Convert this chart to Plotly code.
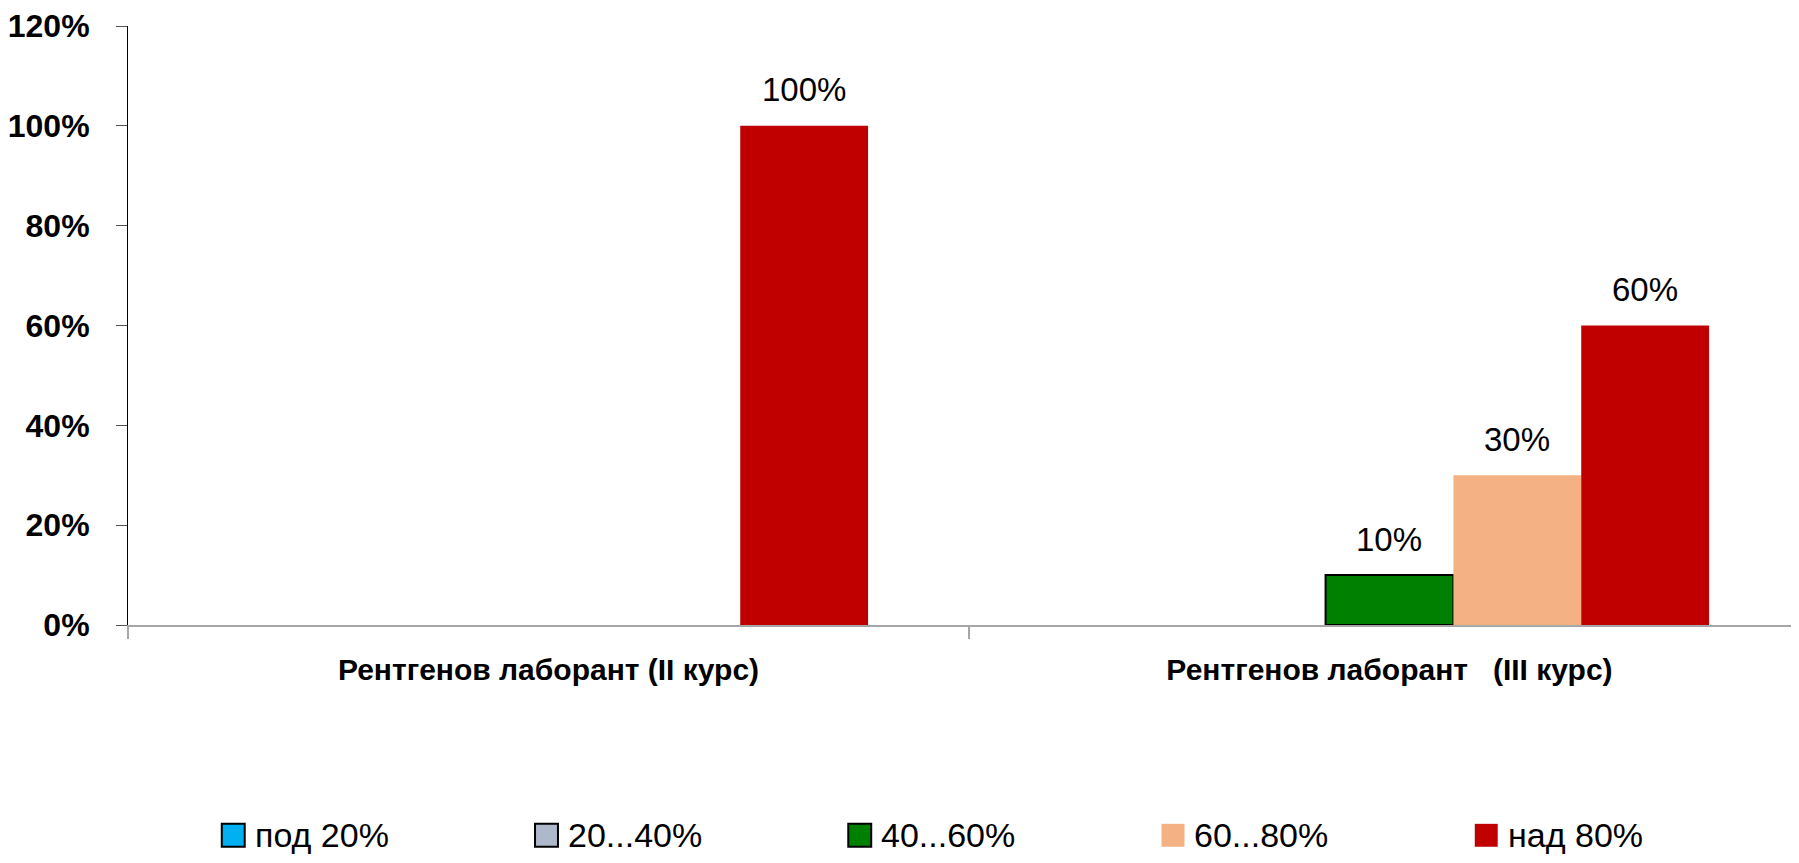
import plotly.graph_objects as go

CATEGORIES = ["Рентгенов лаборант (II курс)", "Рентгенов лаборант\u00a0\u00a0\u00a0(III курс)"]
SERIES_NAMES = ["под 20%", "20...40%", "40...60%", "60...80%", "над 80%"]
SERIES_VALUES = [
    [0, 0],
    [0, 0],
    [0, 10],
    [0, 30],
    [100, 60],
]
SERIES_COLORS = ["#00b0f0", "#adb9ca", "#008000", "#f4b183", "#c00000"]
SERIES_OUTLINED = [True, True, True, False, False]
Y_TICKS = [0, 20, 40, 60, 80, 100, 120]
Y_TICK_LABELS = ["0%", "20%", "40%", "60%", "80%", "100%", "120%"]

FONT = '"Liberation Sans Narrow", "Arial Narrow", "Liberation Sans", Arial, sans-serif'
BARGAP = 0.24

# page body has an 8px default margin, so the figure is offset by 8px
W, H = 1791, 855
PLOT_TOP, PLOT_BOTTOM, PLOT_LEFT = 24, 625, 124   # screen px
PLOT_W = 1799 - PLOT_LEFT
PLOT_H = PLOT_BOTTOM - PLOT_TOP


def paper_x(px):
    return (px - PLOT_LEFT) / PLOT_W


def paper_y(py):
    return (PLOT_BOTTOM - py) / PLOT_H


fig = go.Figure()

n = len(SERIES_NAMES)
bar_w = (1 - BARGAP) / n
for i, (name, vals, color, outlined) in enumerate(zip(SERIES_NAMES, SERIES_VALUES, SERIES_COLORS, SERIES_OUTLINED)):
    fig.add_trace(go.Bar(
        x=CATEGORIES,
        y=vals,
        name=name,
        marker=dict(
            color=color,
            line=dict(color="#000000", width=[2 if (outlined and v) else 0 for v in vals]),
        ),
        showlegend=False,
        hovertemplate="%{x}<br>" + name + ": %{y}%<extra></extra>",
    ))
    # value labels above the non-zero bars
    offset = -(1 - BARGAP) / 2 + bar_w * (i + 0.5)
    for k, v in enumerate(vals):
        if v:
            fig.add_annotation(
                x=k + offset, y=v, xref="x", yref="y",
                text=f"{v}%", showarrow=False,
                yanchor="middle", yshift=36,
                font=dict(family=FONT, size=33, color="#000000"),
            )

# legend drawn as squares + labels, evenly spaced along the bottom
leg_x0, leg_step, leg_y, sq = 218, 314, 836, 23
for i, (name, color, outlined) in enumerate(zip(SERIES_NAMES, SERIES_COLORS, SERIES_OUTLINED)):
    x = leg_x0 + i * leg_step
    fig.add_shape(
        type="rect", xref="paper", yref="paper",
        x0=paper_x(x), x1=paper_x(x + sq),
        y0=paper_y(leg_y + sq / 2), y1=paper_y(leg_y - sq / 2),
        fillcolor=color,
        line=dict(color="#000000" if outlined else color, width=2 if outlined else 0),
    )
    fig.add_annotation(
        x=paper_x(x + sq + 8), xref="paper", xanchor="left",
        y=paper_y(leg_y), yref="paper", yanchor="middle",
        text=name, showarrow=False,
        font=dict(family=FONT, size=34, color="#000000"),
    )

fig.update_layout(
    width=W,
    height=H,
    margin=dict(l=PLOT_LEFT - 8, r=0, t=PLOT_TOP - 8, b=H - (PLOT_BOTTOM - 8)),
    paper_bgcolor="#ffffff",
    plot_bgcolor="#ffffff",
    barmode="group",
    bargap=BARGAP,
    bargroupgap=0,
    showlegend=False,
    font=dict(family=FONT, color="#000000"),
)
fig.update_xaxes(
    range=[-0.5, -0.5 + 2 * PLOT_W / 1686],
    showline=True,
    linecolor="#a6a6a6",
    linewidth=2,
    tickson="boundaries",
    ticks="outside",
    ticklen=12,
    tickwidth=2,
    tickcolor="#a6a6a6",
    ticklabelstandoff=17,
    tickfont=dict(family=FONT, size=30, color="#000000", weight="bold"),
    showgrid=False,
)
fig.update_yaxes(
    range=[0, 120],
    tickvals=Y_TICKS,
    ticktext=Y_TICK_LABELS,
    ticklabeloverflow="allow",
    showline=True,
    linecolor="#000000",
    linewidth=1,
    ticks="outside",
    ticklen=11,
    tickcolor="#555555",
    ticklabelstandoff=20,
    tickfont=dict(family=FONT, size=32, color="#000000", weight="bold"),
    showgrid=False,
    zeroline=False,
)

fig.write_html("out.html")
